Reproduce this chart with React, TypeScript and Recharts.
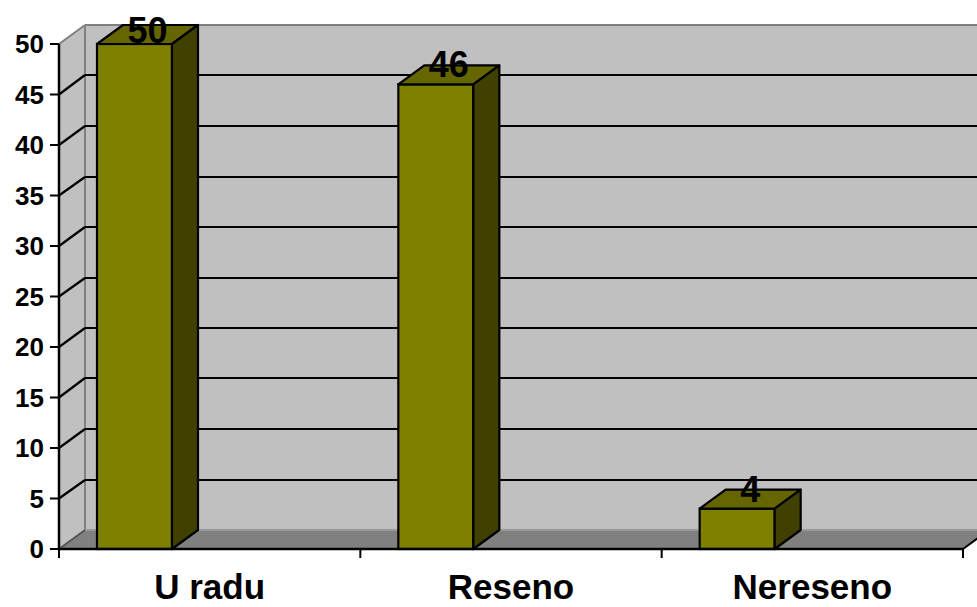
import React from 'react';
import { BarChart, Bar, XAxis, YAxis, CartesianGrid } from 'recharts';

const categories = ['U radu', 'Reseno', 'Nereseno'];
const values = [50, 46, 4];
const yTicks = [0, 5, 10, 15, 20, 25, 30, 35, 40, 45, 50];

const data = categories.map((name, i) => ({ name, value: values[i] }));

const CHART_W = 1000;
const CHART_H = 607;
const MARGIN = { top: 44, right: 37, bottom: 0, left: 0 };
const Y_AXIS_W = 59;
const X_AXIS_H = 58;
const PLOT_LEFT = MARGIN.left + Y_AXIS_W;
const PLOT_RIGHT = CHART_W - MARGIN.right;
const PLOT_TOP = MARGIN.top;
const PLOT_BOTTOM = CHART_H - MARGIN.bottom - X_AXIS_H;
const DX = 26;
const DY = -19;
const FONT = 'Arial, "Liberation Sans", sans-serif';
const WALL = '#C0C0C0';
const FLOOR = '#808080';
const EDGE = '#808080';
const FRONT = '#808000';
const TOP = '#666600';
const SIDE = '#404000';
const LABEL_MIN_BASELINE = 43;
const r = (n: number) => Math.round(n);

const Walls = (props: any) => {
  const { index, x1, x2 } = props;
  if (index !== 0) return <g />;
  const L = x1;
  const R = x2;
  const T = typeof props.y === 'number' ? props.y : PLOT_TOP;
  const B = typeof props.height === 'number' ? T + props.height : PLOT_BOTTOM;
  return (
    <g>
      <rect x={L + DX} y={T + DY} width={R - L} height={B - T} fill={WALL} />
      <polygon points={`${L},${T} ${L + DX},${T + DY} ${L + DX},${B + DY} ${L},${B}`} fill={WALL} />
      <polygon points={`${L},${B} ${L + DX},${B + DY} ${R + DX},${B + DY} ${R},${B}`} fill={FLOOR} />
      <line x1={L + DX} y1={r(T + DY)} x2={R + DX} y2={r(T + DY)} stroke={EDGE} strokeWidth={2} />
      <line x1={L} y1={T} x2={L + DX} y2={T + DY} stroke={EDGE} strokeWidth={2} />
      <line x1={r(L + DX)} y1={T + DY} x2={r(L + DX)} y2={B + DY} stroke={EDGE} strokeWidth={2} />
      <line x1={L + DX} y1={r(B + DY)} x2={R + DX} y2={r(B + DY)} stroke="#999999" strokeWidth={2} />
      <line x1={L} y1={B} x2={L + DX} y2={B + DY} stroke="#555555" strokeWidth={2} />
      <line x1={R} y1={B} x2={R + DX} y2={B + DY} stroke="#000" strokeWidth={2} />
    </g>
  );
};

const GridLine = (props: any) => {
  const { x1, x2, y1 } = props;
  const T = typeof props.y === 'number' ? props.y : PLOT_TOP;
  const B = typeof props.height === 'number' ? T + props.height : PLOT_BOTTOM;
  if (Math.abs(y1 - T) < 0.5 || Math.abs(y1 - B) < 0.5) return <g />;
  const yb = r(y1 + DY);
  return (
    <g>
      <line x1={x1} y1={y1} x2={x1 + DX} y2={yb} stroke="#000" strokeWidth={2.2} />
      <line x1={x1 + DX} y1={yb} x2={x2 + DX} y2={yb} stroke="#000" strokeWidth={2} />
    </g>
  );
};

const Bar3D = (props: any) => {
  const { width: w, height: h, y, value } = props;
  const x = props.x - w;
  const v = Array.isArray(value) ? value[1] : value;
  return (
    <g>
      <rect x={x} y={y} width={w} height={h} fill={FRONT} stroke="#000" strokeWidth={2.2} />
      <polygon
        points={`${x},${y} ${x + DX},${y + DY} ${x + w + DX},${y + DY} ${x + w},${y}`}
        fill={TOP}
        stroke="#000"
        strokeWidth={2.2}
        strokeLinejoin="round"
      />
      <polygon
        points={`${x + w},${y} ${x + w + DX},${y + DY} ${x + w + DX},${y + h + DY} ${x + w},${y + h}`}
        fill={SIDE}
        stroke="#000"
        strokeWidth={2.2}
        strokeLinejoin="round"
      />
      <text
        x={x + w / 2 + DX / 2}
        y={Math.max(y - 7, LABEL_MIN_BASELINE)}
        textAnchor="middle"
        fontFamily={FONT}
        fontWeight="bold"
        fontSize={36}
        fill="#000"
      >
        {v}
      </text>
    </g>
  );
};

const CategoryTick = (props: any) => {
  const { x, y, payload, index } = props;
  const band = (PLOT_RIGHT - PLOT_LEFT) / categories.length;
  return (
    <g>
      <line x1={x - band / 2} y1={y} x2={x - band / 2} y2={y + 9} stroke="#000" strokeWidth={2} />
      {index === categories.length - 1 && (
        <line x1={x + band / 2} y1={y} x2={x + band / 2} y2={y + 9} stroke="#000" strokeWidth={2} />
      )}
      <text x={x} y={y + 50} textAnchor="middle" fontFamily={FONT} fontWeight="bold" fontSize={35} fill="#000">
        {payload.value}
      </text>
    </g>
  );
};

export default function App() {
  return (
    <div style={{ position: 'absolute', left: 0, top: 0, width: 977, height: 607, overflow: 'hidden', background: '#fff' }}>
      <BarChart width={CHART_W} height={CHART_H} data={data} margin={MARGIN}>
        <CartesianGrid horizontal={Walls} vertical={false} stroke="none" />
        <CartesianGrid horizontal={GridLine} vertical={false} />
        <XAxis
          dataKey="name"
          height={X_AXIS_H}
          axisLine={{ stroke: '#000', strokeWidth: 2.5 }}
          tickLine={false}
          tickSize={0}
          tickMargin={0}
          interval={0}
          tick={CategoryTick}
        />
        <YAxis
          width={Y_AXIS_W}
          domain={[0, 50]}
          ticks={yTicks}
          interval={0}
          axisLine={{ stroke: '#000', strokeWidth: 2.5 }}
          tickLine={{ stroke: '#000', strokeWidth: 2 }}
          tickSize={9}
          tickMargin={6}
          tick={{ fill: '#000', fontSize: 26, fontWeight: 'bold', fontFamily: FONT }}
        />
        <Bar dataKey="value" barSize={75} shape={Bar3D} isAnimationActive={false} />
      </BarChart>
    </div>
  );
}
